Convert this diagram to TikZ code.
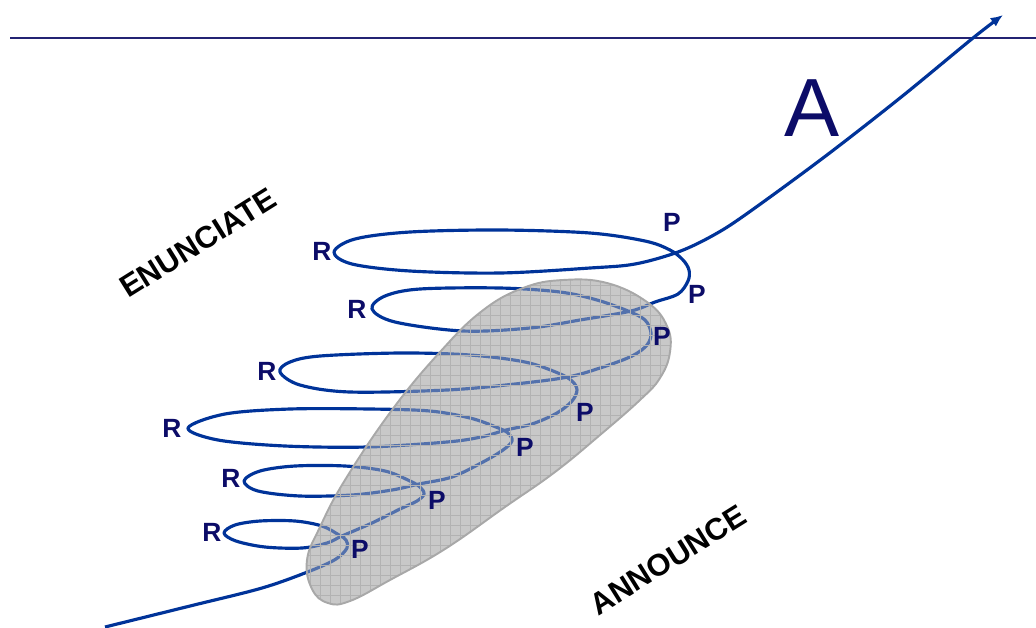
\documentclass[tikz,border=0pt]{standalone}
\usepackage{fontspec}
\setmainfont{Liberation Sans}
\usetikzlibrary{arrows.meta}

\definecolor{helixblue}{RGB}{0,51,153}
\definecolor{labelnavy}{RGB}{12,12,104}
\definecolor{ruleblue}{RGB}{35,35,115}
\definecolor{blobgray}{RGB}{200,200,200}
\definecolor{blobedge}{RGB}{168,168,168}
\definecolor{gridgray}{RGB}{178,178,178}

\begin{document}
\begin{tikzpicture}[x=0.02cm, y=-0.02cm,
        helix/.style={helixblue, line width=1.8pt, line join=round},
        lbl/.style={labelnavy, font=\fontsize{15}{18}\selectfont\bfseries, inner sep=0pt},
        slant/.style={font=\fontsize{17.5}{21}\selectfont\bfseries, rotate=32, inner sep=0pt}]
        \useasboundingbox (0,0) rectangle (1036,627);

        % Top rule
        \coordinate (ruleL) at (10,38);
        \coordinate (ruleR) at (1036,38);
        \draw[ruleblue, line width=0.9pt] (ruleL) -- (ruleR);

        % Blob
        \path[save path=\blobshape] plot[smooth cycle, tension=0.7] coordinates {
            (523,288) (563,280) (607,283) (647,302) (667,326) (670,352) (660,378)
            (640,400) (600,435) (555,472) (505,507) (445,549) (390,580) (350,601)
            (328,603) (312,589) (307,560) (320,527) (345,480) (392,410) (440,352) (482,311)};
        \fill[blobgray, use path=\blobshape];

        % Helix
        \draw[helix, -{Latex[length=7pt,width=6pt]}] plot[smooth, tension=0.55] coordinates {
            (105,627) (190,606) (262,588) (310,571) (336,559) (347,548) (346,540) (339,535)
            (322,526) (295,521) (260,521) (235,525) (224,533)
            (236,541) (265,547) (302,548) (327,543) (342,536)
            (372,523) (400,509) (417,501) (424,494) (420,487) (410,481)
            (385,471) (345,466) (295,466) (260,471) (244,481)
            (258,491) (300,496) (352,495) (392,490) (419,484)
            (452,477) (483,462) (503,450) (512,441) (508,433) (496,427)
            (470,418) (430,411) (370,409) (290,409) (225,414) (188,428)
            (218,440) (285,446) (367,447) (447,442) (481,437) (506,430)
            (532,424) (557,413) (572,401) (577,390) (572,381) (558,373)
            (525,362) (470,355) (400,353) (320,356) (290,362) (280,372)
            (300,385) (350,392) (447,390) (515,384) (568,377)
            (603,367) (632,356) (647,345) (651,333) (645,320) (628,311)
            (597,300) (560,292) (500,288) (420,289) (385,296) (372,309)
            (395,322) (463,331) (530,328) (580,320) (631,311)
            (655,302) (678,294) (688,281) (689,270) (683,260) (670,250)
            (645,241) (590,233) (500,230) (410,232) (355,239) (334,252)
            (352,264) (410,271) (500,273) (590,268) (635,264) (678,252)
            (712,236) (745,215) (823,158) (900,98) (973,38) (1003,15)};

        % Blob veil and grid over the helix
        \begin{scope}
            \clip[use path=\blobshape];
            \fill[blobgray, opacity=0.42] (290,270) rectangle (680,610);
            \foreach \gx in {300,310,...,680}
                \draw[gridgray, line width=0.5pt] (\gx,270) -- (\gx,610);
            \foreach \gy in {275,285,...,605}
                \draw[gridgray, line width=0.5pt] (290,\gy) -- (680,\gy);
        \end{scope}
        \draw[blobedge, line width=1.1pt, use path=\blobshape];

        % Labels
        \node[lbl] (p0) at (672,222) {P};
        \node[lbl] (p6) at (697,294) {P};
        \node[lbl] (p5) at (662,336) {P};
        \node[lbl] (p4) at (585,412) {P};
        \node[lbl] (p3) at (525,447) {P};
        \node[lbl] (p2) at (437,500) {P};
        \node[lbl] (p1) at (360,549) {P};
        \node[lbl] (r6) at (322,251) {R};
        \node[lbl] (r5) at (357,309) {R};
        \node[lbl] (r4) at (267,371) {R};
        \node[lbl] (r3) at (172,428) {R};
        \node[lbl] (r2) at (231,478) {R};
        \node[lbl] (r1) at (212,532) {R};

        \node[labelnavy, font=\fontsize{47}{50}\selectfont, inner sep=0pt] (bigA) at (812,108) {A};
        \node[slant] (enunciate) at (198,243) {ENUNCIATE};
        \node[slant] (announce) at (668,560) {ANNOUNCE};
    \end{tikzpicture}
\end{document}
